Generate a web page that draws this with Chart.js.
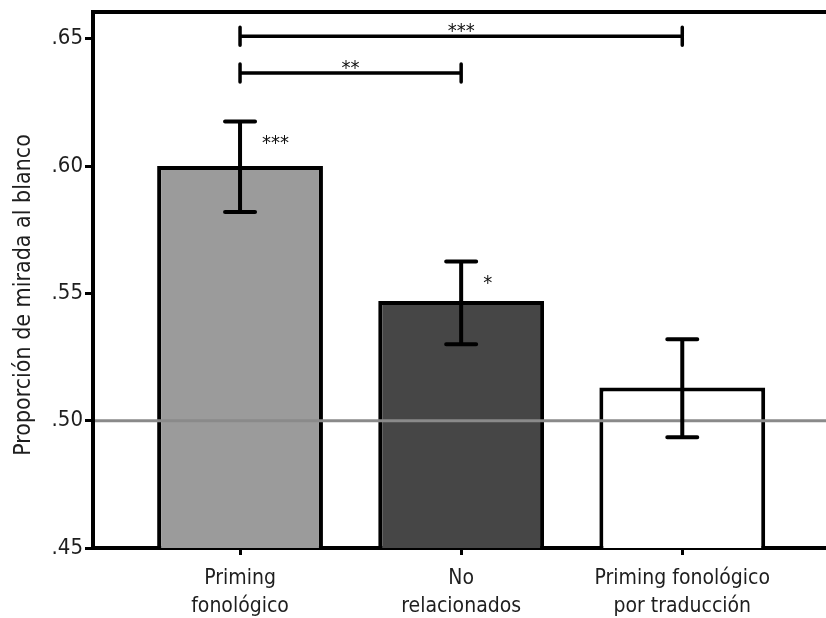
<!DOCTYPE html>
<html>
<head>
<meta charset="utf-8">
<script src="https://cdn.jsdelivr.net/npm/chart.js@4.4.0/dist/chart.umd.min.js"></script>
<style>
  html, body { margin: 0; padding: 0; background: #fff; }
</style>
</head>
<body>
<canvas id="grafico" width="826" height="618"></canvas>
<script>
// Datos
const categorias = [['Priming', 'fonológico'], ['No', 'relacionados'], ['Priming fonológico', 'por traducción']];
const posiciones = [1, 2, 3];
const proporciones = [0.600, 0.547, 0.513];
const errorInferior = [0.582, 0.530, 0.4935];
const errorSuperior = [0.6175, 0.5625, 0.532];
const marcasSig = ['***', '*', ''];

// Comparaciones entre condiciones (corchetes de arriba)
const compDesde = [1, 1];
const compHasta = [3, 2];
const compNivel = [0.651, 0.6365];
const compTexto = ['***', '**'];

const nivelAzar = 0.50;
const ticksY = [0.45, 0.50, 0.55, 0.60, 0.65];
const etiquetasY = ['.45', '.50', '.55', '.60', '.65'];
const tituloY = 'Proporción de mirada al blanco';

const coloresBarras = ['#9b9b9b', '#464646', '#ffffff'];
const FUENTE = "'DejaVu Sans Condensed', 'Liberation Sans', sans-serif";

Chart.defaults.font.family = FUENTE;
Chart.defaults.color = '#1e1e1e';

// Plugin para la línea del azar, barras de error, asteriscos y corchetes
const extras = {
  id: 'extras',
  afterDatasetsDraw(chart) {
    const ctx = chart.ctx;
    const xs = chart.scales.x;
    const ys = chart.scales.y;
    const area = chart.chartArea;
    ctx.save();

    // línea del azar (.50)
    const yAzar = ys.getPixelForValue(nivelAzar);
    ctx.strokeStyle = '#8a8a8a';
    ctx.lineWidth = 3;
    ctx.beginPath();
    ctx.moveTo(area.left + 2, yAzar);
    ctx.lineTo(area.right, yAzar);
    ctx.stroke();

    // barras de error
    ctx.strokeStyle = '#000';
    ctx.lineWidth = 4;
    ctx.lineCap = 'round';
    posiciones.forEach((p, i) => {
      const x = xs.getPixelForValue(p);
      const y1 = ys.getPixelForValue(errorSuperior[i]);
      const y2 = ys.getPixelForValue(errorInferior[i]);
      ctx.beginPath();
      ctx.moveTo(x, y1); ctx.lineTo(x, y2);
      ctx.moveTo(x - 15, y1); ctx.lineTo(x + 15, y1);
      ctx.moveTo(x - 15, y2); ctx.lineTo(x + 15, y2);
      ctx.stroke();
    });

    // asteriscos junto a cada barra
    ctx.fillStyle = '#111';
    ctx.font = '20px ' + FUENTE;
    ctx.textAlign = 'left';
    ctx.textBaseline = 'middle';
    posiciones.forEach((p, i) => {
      if (!marcasSig[i]) return;
      const x = xs.getPixelForValue(p);
      const y = ys.getPixelForValue(errorSuperior[i]);
      ctx.fillText(marcasSig[i], x + 22, y + 22);
    });

    // corchetes de comparación
    ctx.lineWidth = 3.5;
    ctx.textAlign = 'center';
    compDesde.forEach((d, i) => {
      const xa = xs.getPixelForValue(d);
      const xb = xs.getPixelForValue(compHasta[i]);
      const y = ys.getPixelForValue(compNivel[i]);
      ctx.beginPath();
      ctx.moveTo(xa, y); ctx.lineTo(xb, y);
      ctx.moveTo(xa, y - 9); ctx.lineTo(xa, y + 9);
      ctx.moveTo(xb, y - 9); ctx.lineTo(xb, y + 9);
      ctx.stroke();
      ctx.fillText(compTexto[i], (xa + xb) / 2, y - 4);
    });

    // borde superior del área
    ctx.lineCap = 'butt';
    ctx.lineWidth = 4;
    ctx.beginPath();
    ctx.moveTo(area.left - 2, area.top);
    ctx.lineTo(area.right, area.top);
    ctx.stroke();

    // título del eje Y (algo por debajo del centro, como en el original)
    ctx.translate(24, (area.top + area.bottom) / 2 + 15);
    ctx.rotate(-Math.PI / 2);
    ctx.font = '23px ' + FUENTE;
    ctx.fillStyle = '#1e1e1e';
    ctx.textAlign = 'center';
    ctx.textBaseline = 'middle';
    ctx.fillText(tituloY, 0, 0);

    ctx.restore();
  }
};

const ctx = document.getElementById('grafico').getContext('2d');
new Chart(ctx, {
  type: 'bar',
  data: {
    datasets: [{
      data: posiciones.map((p, i) => ({ x: p, y: proporciones[i] })),
      backgroundColor: coloresBarras,
      borderColor: '#000',
      borderWidth: 4,
      borderSkipped: false,
      barPercentage: 0.75,
      categoryPercentage: 1
    }]
  },
  options: {
    responsive: false,
    animation: false,
    layout: { padding: { top: 12, right: 0, left: 0, bottom: 0 } },
    plugins: {
      legend: { display: false },
      tooltip: { enabled: false }
    },
    scales: {
      x: {
        type: 'linear',
        offset: false,
        min: 0.335,
        max: 3.65,
        afterBuildTicks: (s) => { s.ticks = posiciones.map(v => ({ value: v })); },
        afterFit: (s) => { s.height = 70; s.paddingLeft = 0; s.paddingRight = 0; },
        ticks: {
          callback: (v, i) => categorias[i],
          font: { size: 21, lineHeight: 1.33 },
          color: '#1e1e1e',
          padding: 10,
          maxRotation: 0,
          autoSkip: false
        },
        grid: { offset: false, drawOnChartArea: false, drawTicks: true, tickLength: 7, tickWidth: 3, tickColor: '#000' },
        border: { display: true, color: '#000', width: 4 }
      },
      y: {
        min: 0.45,
        max: 0.6605,
        afterBuildTicks: (s) => { s.ticks = ticksY.map(v => ({ value: v })); },
        afterFit: (s) => { s.width = 93; s.paddingTop = 0; s.paddingBottom = 0; },
        ticks: {
          callback: (v, i) => etiquetasY[i],
          font: { size: 22 },
          color: '#1e1e1e',
          padding: 2
        },
        grid: { drawOnChartArea: false, drawTicks: true, tickLength: 8, tickWidth: 3, tickColor: '#000' },
        border: { display: true, color: '#000', width: 4 }
      }
    }
  },
  plugins: [extras]
});
</script>
</body>
</html>
